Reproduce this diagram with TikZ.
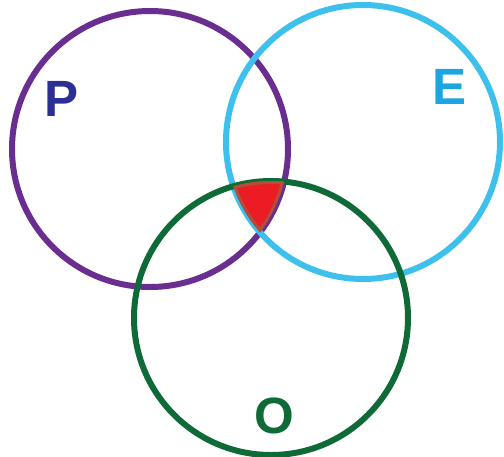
\documentclass[tikz,border=0pt]{standalone}
\usepackage{fontspec}
\setmainfont{Liberation Sans}
\definecolor{pcirc}{HTML}{6A2D90}
\definecolor{ecirc}{HTML}{3EC0EC}
\definecolor{ocirc}{HTML}{0E6A36}
\definecolor{ptext}{HTML}{2C3092}
\definecolor{etext}{HTML}{1BA6E2}
\definecolor{otext}{HTML}{0E6A36}
\definecolor{core}{HTML}{EC1C24}
\definecolor{coreedge}{HTML}{B0503A}
\begin{document}
\begin{tikzpicture}[x=1pt,y=-1pt,
  ring/.style={line width=6pt},
  lbl/.style={font=\fontsize{51}{51}\selectfont\bfseries, inner sep=0pt}]
\useasboundingbox (0,0) rectangle (504,456);
\coordinate (cp) at (150,149);
\coordinate (ce) at (363,142);
\coordinate (co) at (271,318);
\draw[ring, pcirc] (cp) circle[radius=138];
\draw[ring, ecirc] (ce) circle[radius=137];
\draw[ring, ocirc] (co) circle[radius=137];
\begin{scope}
  \clip (cp) circle[radius=138];
  \clip (ce) circle[radius=137];
  \clip (co) circle[radius=137];
  \fill[core] (cp) circle[radius=138];
  \draw[ring, coreedge] (cp) circle[radius=138];
  \draw[ring, coreedge] (ce) circle[radius=137];
  \draw[ring, coreedge] (co) circle[radius=137];
\end{scope}
\node[lbl, text=ptext] (P) at (62,99) {P};
\node[lbl, text=etext] (E) at (450,87) {E};
\node[lbl, text=otext] (O) at (274,416) {O};
\end{tikzpicture}
\end{document}
